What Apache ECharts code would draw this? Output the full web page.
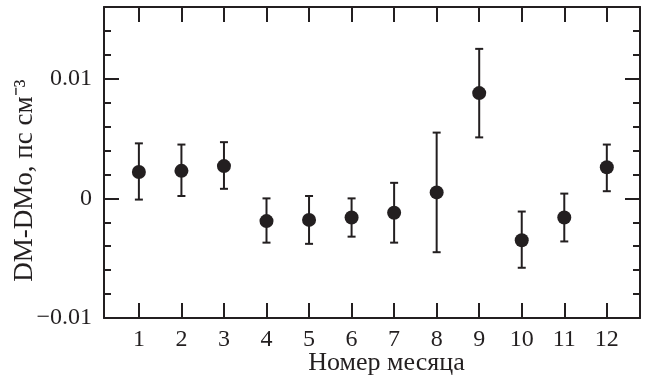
<!DOCTYPE html>
<html>
<head>
<meta charset="utf-8">
<script src="https://cdn.jsdelivr.net/npm/echarts@6/dist/echarts.min.js"></script>
<style>
  html, body { margin: 0; padding: 0; background: #fff; }
  #chart { width: 652px; height: 378px; }
</style>
</head>
<body>
<div id="chart"></div>
<script>
// месяц, DM-DMo и границы погрешностей
const months = [1, 2, 3, 4, 5, 6, 7, 8, 9, 10, 11, 12];
const values = [0.0022, 0.0023, 0.0027, -0.0019, -0.0018, -0.0016, -0.0012, 0.0005, 0.0088, -0.0035, -0.0016, 0.0026];
const upper = [0.0046, 0.0045, 0.0047, 0.0000, 0.0002, 0.0000, 0.0013, 0.0055, 0.0125, -0.0011, 0.0004, 0.0045];
const lower = [-0.0001, 0.0002, 0.0008, -0.0037, -0.0038, -0.0032, -0.0037, -0.0045, 0.0051, -0.0058, -0.0036, 0.0006];

const yMajor = [-0.01, 0, 0.01];
const yMajorLabels = ['\u22120.01', '0', '0.01'];
const yMinor = [-0.008, -0.006, -0.004, -0.002, 0.002, 0.004, 0.006, 0.008, 0.012, 0.014];

const ink = '#231f20';
const font = "'Liberation Serif', 'Times New Roman', serif";

const chart = echarts.init(document.getElementById('chart'));

const yBase = {
  type: 'value',
  min: -0.01,
  max: 0.016,
  splitLine: {show: false},
  axisLine: {show: false},
  axisLabel: {show: false},
  axisTick: {inside: true, length: 15, lineStyle: {color: ink, width: 2}}
};
const majorY = (pos) => ({
  ...yBase,
  position: pos,
  axisLine: {show: true, onZero: false, lineStyle: {color: ink, width: 2}},
  axisTick: {...yBase.axisTick, customValues: yMajor}
});
const minorY = (pos) => ({
  ...yBase,
  position: pos,
  axisTick: {...yBase.axisTick, length: 7, customValues: yMinor}
});

chart.setOption({
  animation: false,
  textStyle: {fontFamily: font, color: ink},
  grid: {left: 104, right: 12, top: 7, bottom: 60, containLabel: false, outerBoundsMode: 'none'},
  xAxis: [
    {
      type: 'value',
      min: 0.18,
      max: 12.78,
      position: 'bottom',
      name: 'Номер месяца',
      nameLocation: 'middle',
      nameGap: 32,
      nameMoveOverlap: false,
      nameTextStyle: {fontFamily: font, fontSize: 26, color: ink, padding: [0, 0, 0, 29]},
      splitLine: {show: false},
      axisLine: {onZero: false, lineStyle: {color: ink, width: 2}},
      axisTick: {inside: true, length: 15, customValues: months, lineStyle: {color: ink, width: 2}},
      axisLabel: {customValues: months, margin: 10, fontFamily: font, fontSize: 24, color: ink}
    },
    {
      type: 'value',
      min: 0.18,
      max: 12.78,
      position: 'top',
      splitLine: {show: false},
      axisLine: {onZero: false, lineStyle: {color: ink, width: 2}},
      axisTick: {inside: true, length: 15, customValues: months, lineStyle: {color: ink, width: 2}},
      axisLabel: {show: false}
    }
  ],
  yAxis: [
    {
      ...majorY('left'),
      name: 'DM-DMo, пс см\u207B\u00B3',
      nameLocation: 'middle',
      nameRotate: 90,
      nameGap: 66,
      nameMoveOverlap: false,
      nameTextStyle: {fontFamily: font, fontSize: 27, color: ink, padding: [0, 36, 0, 0]},
      axisLabel: {
        show: true,
        customValues: yMajor,
        margin: 12,
        fontFamily: font,
        fontSize: 24,
        color: ink,
        formatter: (v) => yMajorLabels[yMajor.findIndex(m => Math.abs(m - v) < 1e-9)]
      }
    },
    minorY('left'),
    majorY('right'),
    minorY('right')
  ],
  series: [
    {
      type: 'custom',
      xAxisIndex: 0,
      yAxisIndex: 0,
      data: months.map((m, i) => [m, lower[i], upper[i]]),
      renderItem: (params, api) => {
        const lo = api.coord([api.value(0), api.value(1)]);
        const hi = api.coord([api.value(0), api.value(2)]);
        const cap = 4;
        const style = {stroke: ink, lineWidth: 2};
        return {
          type: 'group',
          children: [
            {type: 'line', shape: {x1: lo[0], y1: lo[1], x2: hi[0], y2: hi[1]}, style},
            {type: 'line', shape: {x1: hi[0] - cap, y1: hi[1], x2: hi[0] + cap, y2: hi[1]}, style},
            {type: 'line', shape: {x1: lo[0] - cap, y1: lo[1], x2: lo[0] + cap, y2: lo[1]}, style}
          ]
        };
      },
      z: 2
    },
    {
      type: 'scatter',
      xAxisIndex: 0,
      yAxisIndex: 0,
      symbol: 'circle',
      symbolSize: 14,
      itemStyle: {color: ink, opacity: 1},
      data: months.map((m, i) => [m, values[i]]),
      z: 3
    }
  ]
});
</script>
</body>
</html>
